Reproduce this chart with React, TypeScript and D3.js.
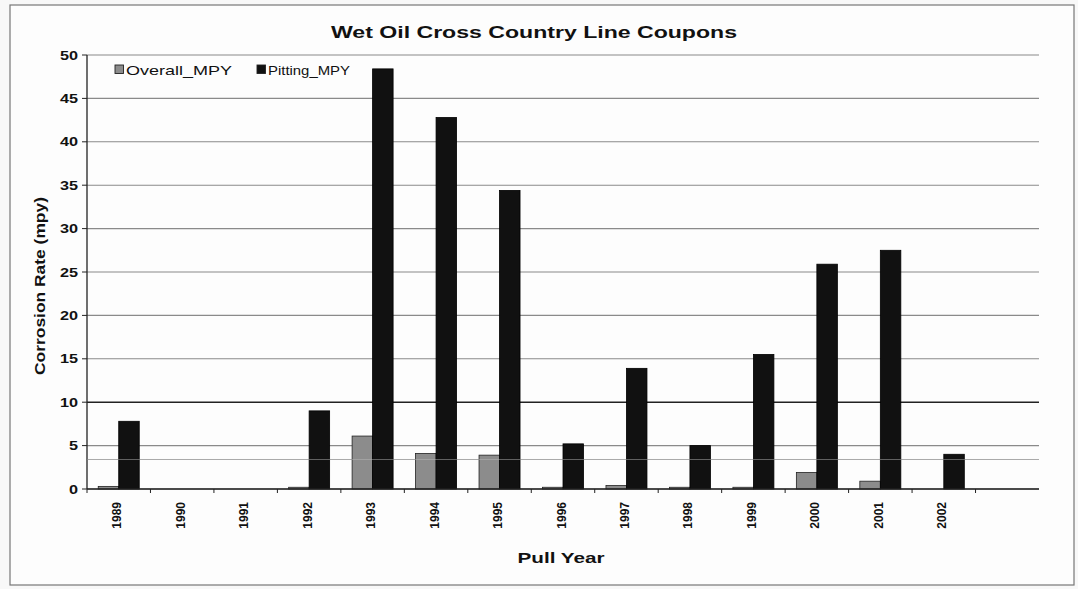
import React from "react";
import * as d3 from "d3";

const years = ["1989", "1990", "1991", "1992", "1993", "1994", "1995", "1996", "1997", "1998", "1999", "2000", "2001", "2002", ""];
const overallMPY = [0.3, 0, 0, 0.2, 6.1, 4.1, 3.9, 0.2, 0.4, 0.2, 0.2, 1.9, 0.9, 0];
const pittingMPY = [7.8, 0, 0, 9.0, 48.4, 42.8, 34.4, 5.2, 13.9, 5.0, 15.5, 25.9, 27.5, 4.0];
const yTicks = [0, 5, 10, 15, 20, 25, 30, 35, 40, 45, 50];
const seriesNames = ["Overall_MPY", "Pitting_MPY"];
const seriesColors = ["#8c8c8c", "#111111"];
const scanRuleLevel = 3.4;

const W = 1078, H = 589;
const M = { left: 87, right: 1039, top: 55, bottom: 489 };

export default function App() {
  const x = d3.scaleBand<string>().domain(years).range([M.left, M.right]).padding(0);
  const y = d3.scaleLinear().domain([0, 50]).range([M.bottom, M.top]);
  const bw = 20.5;
  const font = "'Liberation Sans', Arial, sans-serif";
  const legendX = [115, 257];
  const legendLen = [106, 82];

  return (
    <div style={{ position: "absolute", left: 0, top: 0 }}>
      <svg width={W} height={H} style={{ display: "block", background: "#f8f8f8" }}>
        <rect x={10} y={5} width={1064} height={580} fill="#fdfdfd" stroke="#777" strokeWidth={1.2} />
        <text x={534} y={38} textAnchor="middle" fontFamily={font} fontWeight="bold" fontSize={16} fill="#111"
          textLength={406} lengthAdjust="spacingAndGlyphs">
          Wet Oil Cross Country Line Coupons
        </text>
        {/* grid */}
        {yTicks.map((t) => (
          <line key={"g" + t} x1={M.left} x2={M.right} y1={y(t)} y2={y(t)}
            stroke={t === 10 ? "#222" : "#8a8a8a"} strokeWidth={t === 10 ? 1.6 : 1.1} />
        ))}
        <line x1={M.left} x2={M.right} y1={y(scanRuleLevel)} y2={y(scanRuleLevel)} stroke="#9a9a9a" strokeWidth={1} />
        {/* y axis */}
        <line x1={M.left} x2={M.left} y1={M.top} y2={M.bottom} stroke="#222" strokeWidth={1.3} />
        {yTicks.map((t) => (
          <g key={"yt" + t}>
            <line x1={M.left - 5} x2={M.left} y1={y(t)} y2={y(t)} stroke="#222" />
            <text transform={`translate(${M.left - 9},${y(t) + 4.5}) scale(1.3,1)`} textAnchor="end" fontFamily={font}
              fontWeight="bold" fontSize={12.5} fill="#111">{t}</text>
          </g>
        ))}
        {/* bars */}
        {years.slice(0, overallMPY.length).map((yr, i) => {
          const c = (x(yr) as number) + x.bandwidth() / 2;
          return (
            <g key={"b" + yr}>
              <rect x={c - bw} y={y(overallMPY[i])} width={bw} height={M.bottom - y(overallMPY[i])}
                fill={seriesColors[0]} stroke="#222" strokeWidth={0.8} />
              <rect x={c} y={y(pittingMPY[i])} width={bw} height={M.bottom - y(pittingMPY[i])}
                fill={seriesColors[1]} stroke="#000" strokeWidth={0.8} />
            </g>
          );
        })}
        <line x1={M.left} x2={M.right} y1={y(scanRuleLevel)} y2={y(scanRuleLevel)} stroke="#bbb" strokeWidth={0.8} opacity={0.6} />
        {/* x axis */}
        <line x1={M.left} x2={M.right} y1={M.bottom} y2={M.bottom} stroke="#222" strokeWidth={1.3} />
        {years.map((yr) => (
          <line key={"xt" + yr} x1={x(yr) as number} x2={x(yr) as number} y1={M.bottom} y2={M.bottom + 4} stroke="#222" />
        ))}
        {years.map((yr) => {
          const c = (x(yr) as number) + x.bandwidth() / 2;
          return (
            <text key={"xl" + yr} transform={`translate(${c + 2.5},${M.bottom + 13}) rotate(-90)`} textAnchor="end"
              fontFamily={font} fontWeight="bold" fontSize={12} fill="#111">{yr}</text>
          );
        })}
        <text x={561} y={563} textAnchor="middle" fontFamily={font} fontWeight="bold" fontSize={15} fill="#111"
          textLength={87} lengthAdjust="spacingAndGlyphs">Pull Year</text>
        <text transform={`translate(45,${286}) rotate(-90)`} textAnchor="middle" fontFamily={font} fontWeight="bold" fontSize={14.5} fill="#111"
          textLength={178} lengthAdjust="spacingAndGlyphs">
          Corrosion Rate (mpy)
        </text>
        {/* legend */}
        {seriesNames.map((n, i) => (
          <g key={"lg" + n}>
            <rect x={legendX[i]} y={65} width={8.5} height={8.5} fill={seriesColors[i]} stroke="#222" strokeWidth={0.9} />
            <text x={legendX[i] + 11} y={74.5} fontFamily={font} fontSize={13.5} fill="#111"
              textLength={legendLen[i]} lengthAdjust="spacingAndGlyphs">{n}</text>
          </g>
        ))}
      </svg>
    </div>
  );
}
